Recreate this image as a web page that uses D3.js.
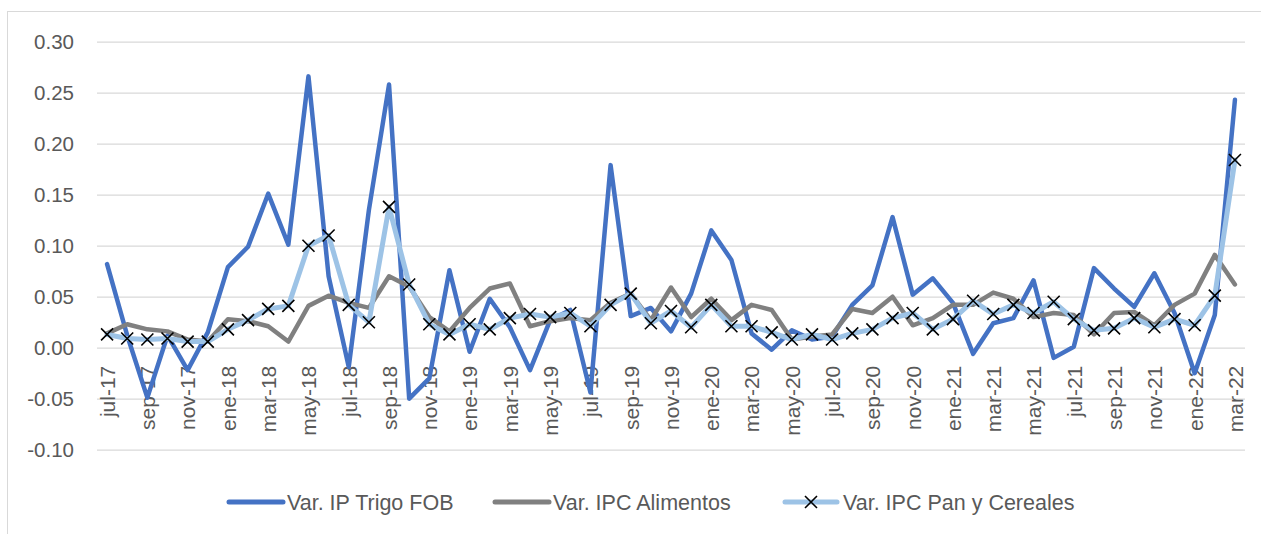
<!DOCTYPE html>
<html>
<head>
<meta charset="utf-8">
<script src="https://cdn.jsdelivr.net/npm/d3@7/dist/d3.min.js"></script>
<style>
  html, body { margin: 0; padding: 0; background: #fff; }
  svg { display: block; }
  text { font-family: "Liberation Sans", Arial, sans-serif; fill: #595959; }
</style>
</head>
<body>
<svg id="chart" width="1261" height="534"></svg>
<script>
const months = [
  "jul-17","ago-17","sep-17","oct-17","nov-17","dic-17",
  "ene-18","feb-18","mar-18","abr-18","may-18","jun-18","jul-18","ago-18","sep-18","oct-18","nov-18","dic-18",
  "ene-19","feb-19","mar-19","abr-19","may-19","jun-19","jul-19","ago-19","sep-19","oct-19","nov-19","dic-19",
  "ene-20","feb-20","mar-20","abr-20","may-20","jun-20","jul-20","ago-20","sep-20","oct-20","nov-20","dic-20",
  "ene-21","feb-21","mar-21","abr-21","may-21","jun-21","jul-21","ago-21","sep-21","oct-21","nov-21","dic-21",
  "ene-22","feb-22","mar-22"
];

const trigoFOB = [
  0.082, 0.012, -0.049, 0.012, -0.022, 0.015,
  0.079, 0.099, 0.151, 0.101, 0.266, 0.070, -0.019, 0.135, 0.258, -0.050, -0.030, 0.076,
  -0.004, 0.048, 0.020, -0.022, 0.027, 0.037, -0.044, 0.179, 0.031, 0.039, 0.016, 0.053,
  0.115, 0.086, 0.014, -0.002, 0.017, 0.008, 0.011, 0.042, 0.061, 0.128, 0.052, 0.068,
  0.044, -0.006, 0.024, 0.029, 0.066, -0.010, 0.001, 0.078, 0.058, 0.040, 0.073, 0.034,
  -0.025, 0.032, 0.243
];

const ipcAlimentos = [
  0.014, 0.023, 0.018, 0.016, 0.008, 0.006,
  0.028, 0.026, 0.021, 0.006, 0.041, 0.051, 0.044, 0.039, 0.070, 0.060, 0.030, 0.016,
  0.039, 0.058, 0.063, 0.021, 0.026, 0.029, 0.027, 0.044, 0.053, 0.027, 0.059, 0.030,
  0.048, 0.027, 0.042, 0.037, 0.008, 0.011, 0.013, 0.038, 0.034, 0.050, 0.022, 0.029,
  0.042, 0.042, 0.054, 0.048, 0.030, 0.034, 0.032, 0.013, 0.034, 0.035, 0.022, 0.042,
  0.053, 0.091, 0.062
];

const ipcPanCereales = [
  0.013, 0.009, 0.008, 0.009, 0.006, 0.006,
  0.018, 0.027, 0.038, 0.041, 0.100, 0.110, 0.042, 0.025, 0.138, 0.062, 0.023, 0.013,
  0.023, 0.018, 0.029, 0.033, 0.030, 0.034, 0.021, 0.042, 0.053, 0.024, 0.036, 0.020,
  0.042, 0.021, 0.021, 0.015, 0.008, 0.013, 0.008, 0.014, 0.018, 0.029, 0.034, 0.018,
  0.028, 0.046, 0.033, 0.042, 0.034, 0.045, 0.028, 0.017, 0.019, 0.029, 0.020, 0.028,
  0.022, 0.051, 0.184
];

const yTicks = [-0.10, -0.05, 0.00, 0.05, 0.10, 0.15, 0.20, 0.25, 0.30];
const seriesNames = ["Var. IP Trigo FOB", "Var. IPC Alimentos", "Var. IPC Pan y Cereales"];
const seriesColors = ["#4472C4", "#808080", "#9DC3E6"];

const svg = d3.select("#chart");

// outer chart border
svg.append("rect")
  .attr("x", 7.5).attr("y", 11.5)
  .attr("width", 1300).attr("height", 600)
  .attr("fill", "none").attr("stroke", "#D9D9D9").attr("stroke-width", 1);

const x = d3.scalePoint().domain(months).range([97, 1245]).padding(0.5);
const y = d3.scaleLinear().domain([-0.10, 0.30]).range([449.7, 41.7]);

// gridlines
const gridG = svg.append("g")
  .attr("transform", "translate(97,0)")
  .call(d3.axisLeft(y).tickValues(yTicks).tickSize(-(1245 - 97)).tickFormat(""));
gridG.select(".domain").remove();
gridG.selectAll(".tick line").attr("stroke", "#D9D9D9").attr("stroke-width", 1.3);

// y labels
const yAxis = svg.append("g")
  .attr("transform", "translate(74,0)")
  .call(d3.axisLeft(y).tickValues(yTicks).tickSize(0).tickPadding(0).tickFormat(d3.format(".2f")));
yAxis.select(".domain").remove();
yAxis.selectAll("text")
  .style("font-size", "20.5px").attr("fill", "#595959").attr("dy", "0.35em")
  .text(d => d3.format(".2f")(d).replace("−", "-"));

// x labels (every other month)
const xAxis = svg.append("g")
  .attr("transform", `translate(0,${y(0)})`)
  .call(d3.axisBottom(x).tickValues(months.filter((m, i) => i % 2 === 0)).tickSize(0).tickPadding(0));
xAxis.select(".domain").remove();
xAxis.selectAll("text")
  .style("font-size", "21px").attr("fill", "#595959")
  .attr("text-anchor", "end")
  .attr("transform", "translate(0,18) rotate(-90)")
  .attr("x", 0).attr("y", 0).attr("dy", "0.35em");

const line = d3.line().x((d, i) => x(months[i])).y(d => y(d));

const allSeries = [trigoFOB, ipcAlimentos, ipcPanCereales];
const widths = [4.5, 4.5, 5];
allSeries.forEach((s, k) => {
  svg.append("path")
    .datum(s)
    .attr("d", line)
    .attr("fill", "none")
    .attr("stroke", seriesColors[k])
    .attr("stroke-width", widths[k])
    .attr("stroke-linejoin", "round")
    .attr("stroke-linecap", "round");
});

// X markers for Pan y Cereales
const ms = 6;
function xMarker(g, cx, cy) {
  g.append("path")
    .attr("d", `M${cx - ms},${cy - ms}L${cx + ms},${cy + ms}M${cx - ms},${cy + ms}L${cx + ms},${cy - ms}`)
    .attr("stroke", "#000").attr("stroke-width", 1.6).attr("fill", "none");
}
const mg = svg.append("g");
ipcPanCereales.forEach((v, i) => xMarker(mg, x(months[i]), y(v)));

// legend
const legendItems = [
  { x0: 229, x1: 283, tx: 287 },
  { x0: 495, x1: 549, tx: 553 },
  { x0: 785, x1: 837, tx: 843 }
];
const ly = 502;
const lg = svg.append("g");
legendItems.forEach((it, k) => {
  lg.append("line")
    .attr("x1", it.x0).attr("x2", it.x1).attr("y1", ly).attr("y2", ly)
    .attr("stroke", seriesColors[k]).attr("stroke-width", 5).attr("stroke-linecap", "round");
  if (k === 2) xMarker(lg, (it.x0 + it.x1) / 2, ly);
  lg.append("text")
    .attr("x", it.tx).attr("y", ly).attr("dy", "0.35em")
    .style("font-size", "21.5px")
    .text(seriesNames[k]);
});
</script>
</body>
</html>
